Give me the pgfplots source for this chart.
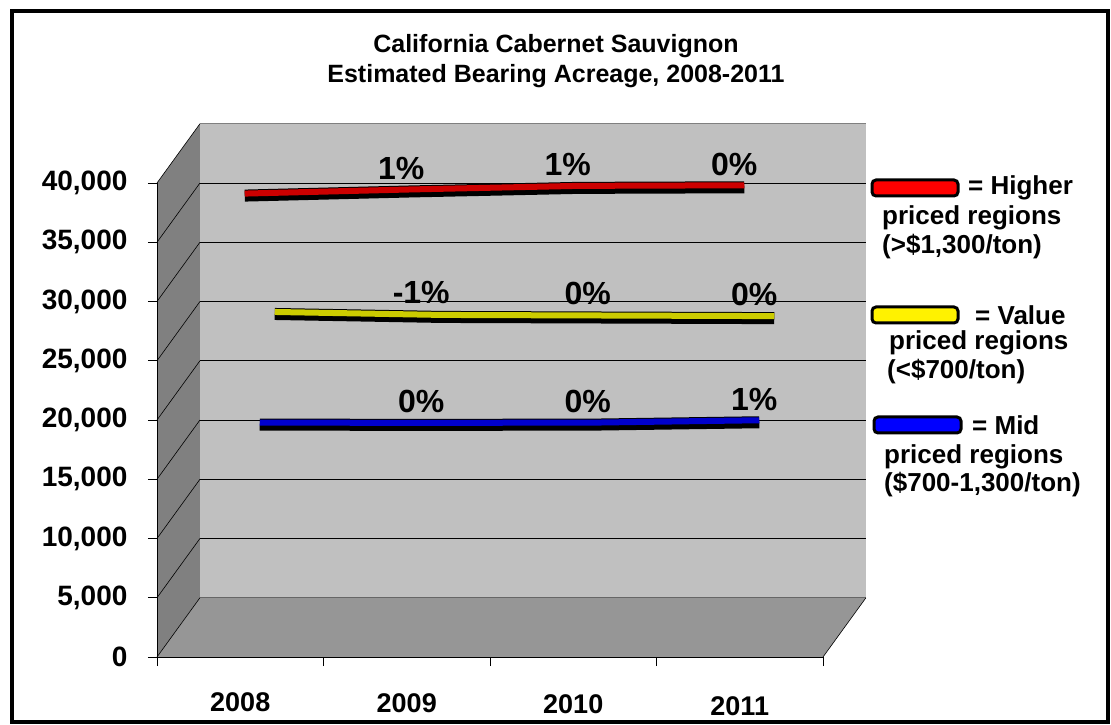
\documentclass[border=0pt]{standalone}
\usepackage{fontspec}
\setmainfont{Liberation Sans}
\usepackage{pgfplots}
\pgfplotsset{compat=1.18}
\definecolor{backwall}{RGB}{192,192,192}
\definecolor{sidewall}{RGB}{128,128,128}
\definecolor{floorc}{RGB}{150,150,150}
\definecolor{rred}{RGB}{204,0,0}
\definecolor{ryellow}{RGB}{204,204,0}
\definecolor{rblue}{RGB}{0,0,204}
\newcommand{\pctfont}{\bfseries\fontsize{32}{32}\selectfont}
\newcommand{\legfont}{\bfseries\fontsize{26}{26}\selectfont}
\begin{document}
\begin{tikzpicture}[x=1pt,y=1pt]
\useasboundingbox (0,0) rectangle (1111,725);
\draw[line width=4pt] (12,3) rectangle (1108,714);
\node[font=\bfseries\fontsize{25}{30}\selectfont, align=center] at (556,664) {California Cabernet Sauvignon\\Estimated Bearing Acreage, 2008-2011};
\begin{axis}[at={(157pt,68pt)}, anchor=south west, width=666pt, height=474pt, scale only axis,
  xmin=0, xmax=4, ymin=0, ymax=40000, clip=false,
  axis x line*=bottom, axis y line*=left,
  axis line style={black, line width=0.8pt, -},
  xtick={0,1,2,3,4}, xticklabels={},
  ytick={0,5000,...,40000}, scaled y ticks=false,
  tick align=outside, major tick length=9pt,
  tick style={black, line width=0.8pt},
  yticklabel style={font=\bfseries\fontsize{28}{28}\selectfont, xshift=-17pt,
    /pgf/number format/fixed, /pgf/number format/1000 sep={,},
    /pgf/number format/assume math mode=true},
]
% walls
\fill[backwall] (axis cs:0.258,5000) rectangle (axis cs:4.258,45000);
\fill[sidewall] (axis cs:0,0) -- (axis cs:0.258,5000) -- (axis cs:0.258,45000) -- (axis cs:0,40000) -- cycle;
\fill[floorc] (axis cs:0,0) -- (axis cs:4,0) -- (axis cs:4.258,5000) -- (axis cs:0.258,5000) -- cycle;
% back wall gridlines
\draw[black, line width=0.6pt] (axis cs:0.258,10000) -- (axis cs:4.258,10000);
\draw[black, line width=0.6pt] (axis cs:0.258,15000) -- (axis cs:4.258,15000);
\draw[black, line width=0.6pt] (axis cs:0.258,20000) -- (axis cs:4.258,20000);
\draw[black, line width=0.6pt] (axis cs:0.258,25000) -- (axis cs:4.258,25000);
\draw[black, line width=0.6pt] (axis cs:0.258,30000) -- (axis cs:4.258,30000);
\draw[black, line width=0.6pt] (axis cs:0.258,35000) -- (axis cs:4.258,35000);
\draw[black, line width=0.6pt] (axis cs:0.258,40000) -- (axis cs:4.258,40000);
\draw[black!60, line width=0.6pt] (axis cs:0.258,5000) -- (axis cs:4.258,5000);
\draw[black!50, line width=0.6pt] (axis cs:0.258,45000) -- (axis cs:4.258,45000);
% side wall diagonals
\draw[black, line width=0.6pt] (axis cs:0,0) -- (axis cs:0.258,5000);
\draw[black, line width=0.6pt] (axis cs:0,5000) -- (axis cs:0.258,10000);
\draw[black, line width=0.6pt] (axis cs:0,10000) -- (axis cs:0.258,15000);
\draw[black, line width=0.6pt] (axis cs:0,15000) -- (axis cs:0.258,20000);
\draw[black, line width=0.6pt] (axis cs:0,20000) -- (axis cs:0.258,25000);
\draw[black, line width=0.6pt] (axis cs:0,25000) -- (axis cs:0.258,30000);
\draw[black, line width=0.6pt] (axis cs:0,30000) -- (axis cs:0.258,35000);
\draw[black, line width=0.6pt] (axis cs:0,35000) -- (axis cs:0.258,40000);
\draw[black, line width=0.6pt] (axis cs:0,40000) -- (axis cs:0.258,45000);
\draw[black, line width=0.6pt] (axis cs:4,0) -- (axis cs:4.258,5000);
% front edges
\draw[black, line width=0.8pt] (axis cs:0,40000) -- (axis cs:0,0) -- (axis cs:4,0);
% series: Higher priced (red)
\addplot[black, line width=12pt, xshift=4.5pt, yshift=4pt] coordinates {(0.5,38600) (1.5,38950) (2.5,39250) (3.5,39300)};
\addplot[rred, line width=6pt, xshift=4.5pt, yshift=6pt] coordinates {(0.5,38600) (1.5,38950) (2.5,39250) (3.5,39300)};
% series: Mid priced (blue)
\addplot[black, line width=12pt, xshift=19.5pt, yshift=25pt] coordinates {(0.5,17500) (1.5,17480) (2.5,17500) (3.5,17700)};
\addplot[rblue, line width=6pt, xshift=19.5pt, yshift=27pt] coordinates {(0.5,17500) (1.5,17480) (2.5,17500) (3.5,17700)};
% series: Value priced (yellow)
\addplot[black, line width=12pt, xshift=34.5pt, yshift=45pt] coordinates {(0.5,25150) (1.5,24900) (2.5,24850) (3.5,24800)};
\addplot[ryellow, line width=6pt, xshift=34.5pt, yshift=47pt] coordinates {(0.5,25150) (1.5,24900) (2.5,24850) (3.5,24800)};
% percent labels
\addplot[draw=none, xshift=4.5pt, yshift=6pt, nodes near coords, point meta=explicit symbolic,
  every node near coord/.append style={anchor=center, font=\pctfont, xshift=-10pt, yshift=21pt}]
  coordinates {(1.5,38950) [1\%] (2.5,39250) [1\%] (3.5,39300) [0\%]};
\addplot[draw=none, xshift=34.5pt, yshift=47pt, nodes near coords, point meta=explicit symbolic,
  every node near coord/.append style={anchor=center, font=\pctfont, xshift=-20pt, yshift=22pt}]
  coordinates {(1.5,24900) [-1\%] (2.5,24850) [0\%] (3.5,24800) [0\%]};
\addplot[draw=none, xshift=19.5pt, yshift=27pt, nodes near coords, point meta=explicit symbolic,
  every node near coord/.append style={anchor=center, font=\pctfont, xshift=-5pt, yshift=21pt}]
  coordinates {(1.5,17480) [0\%] (2.5,17500) [0\%] (3.5,17700) [1\%]};
% category labels
\node[font=\bfseries\fontsize{27}{27}\selectfont, yshift=-45pt] at (axis cs:0.5,0) {2008};
\node[font=\bfseries\fontsize{27}{27}\selectfont, yshift=-46pt] at (axis cs:1.5,0) {2009};
\node[font=\bfseries\fontsize{27}{27}\selectfont, yshift=-47pt] at (axis cs:2.5,0) {2010};
\node[font=\bfseries\fontsize{27}{27}\selectfont, yshift=-49pt] at (axis cs:3.5,0) {2011};
\end{axis}
% legend
\draw[line width=3pt, fill=red, rounded corners=4pt] (872,529) rectangle (958,545);
\node[font=\legfont, anchor=west, inner sep=0pt] at (968,537) {= Higher};
\node[font=\legfont, anchor=west, inner sep=0pt] at (882,507) {priced regions};
\node[font=\legfont, anchor=west, inner sep=0pt] at (882,478) {(>\$1,300/ton)};
\draw[line width=3pt, fill=yellow, rounded corners=4pt] (872,402) rectangle (958,418);
\node[font=\legfont, anchor=west, inner sep=0pt] at (975,410) {= Value};
\node[font=\legfont, anchor=west, inner sep=0pt] at (889,382) {priced regions};
\node[font=\legfont, anchor=west, inner sep=0pt] at (887,353) {(<\$700/ton)};
\draw[line width=3pt, fill=blue, rounded corners=4pt] (874,292) rectangle (961,308);
\node[font=\legfont, anchor=west, inner sep=0pt] at (972,300) {= Mid};
\node[font=\legfont, anchor=west, inner sep=0pt] at (884,268) {priced regions};
\node[font=\legfont, anchor=west, inner sep=0pt] at (884,240) {(\$700-1,300/ton)};
\end{tikzpicture}
\end{document}
